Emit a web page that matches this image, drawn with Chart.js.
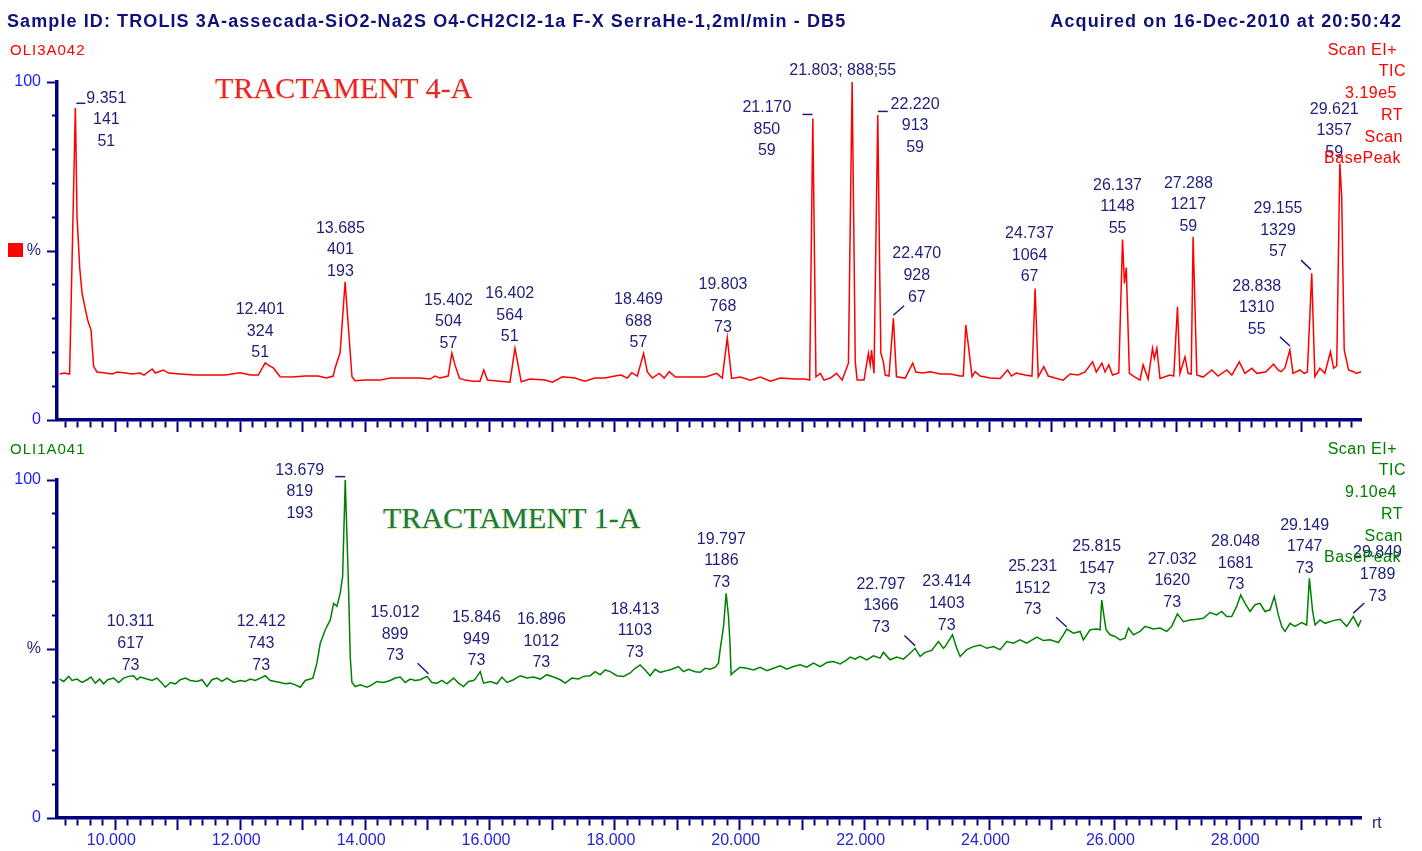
<!DOCTYPE html>
<html>
<head>
<meta charset="utf-8">
<script src="https://cdn.jsdelivr.net/npm/chart.js@4.4.0/dist/chart.umd.min.js"></script>
<style>
    body { margin: 0; background: #fff; width: 1422px; height: 851px; overflow: hidden; position: relative;
           font-family: "Liberation Sans", Arial, sans-serif; }
    canvas { position: absolute; left: 0; }
    .lab { position: absolute; line-height: 20px; white-space: nowrap; }
    .big { position: absolute; line-height: 36px; white-space: nowrap; font-family: "Liberation Serif", "Times New Roman", serif;
           font-size: 30px; letter-spacing: 0.1px; }
</style>
</head>
<body>
<canvas id="topChart" width="1422" height="440" style="top:0"></canvas>
<canvas id="botChart" width="1422" height="411" style="top:440px"></canvas>
<div style="position:absolute;left:8px;top:243px;width:15px;height:14px;background:#ff0000"></div>
<div class="big" style="left:215px;top:70px;color:#e8203a;text-shadow:-1px 1px 0 rgba(250,200,60,0.55)">TRACTAMENT 4-A</div>
<div class="big" style="left:383px;top:500px;color:#1d7a3c;text-shadow:-1px 1px 0 rgba(235,205,50,0.6), 1px 0 0 rgba(70,200,230,0.45)">TRACTAMENT 1-A</div>
<script>
/* =============================
   GC-MS TIC overlay, two runs
   retention time (min) vs relative abundance (%)
   ============================= */

// time axis window and ticks
const X_MIN = 9.066;
const X_MAX = 29.949;
const X_STEP = 0.2;
const Y_STEP = 10;

// OLI3A042 - TRACTAMENT 4-A  [rt, %]
const topTrace = [
    [9.108,13.6],[9.18,13.9],[9.268,13.6],[9.360,92.3],[9.387,60.1],[9.43,45.0],[9.467,37.5],[9.51,33.7],
    [9.557,29.6],[9.611,26.6],[9.653,15.8],[9.707,14.2],[9.84,13.9],[9.95,13.6],[10.03,14.2],[10.16,13.9],
    [10.27,13.6],[10.40,13.9],[10.46,13.3],[10.59,15.1],[10.64,13.9],[10.77,14.8],[10.85,13.9],[11.04,13.6],
    [11.28,13.3],[11.52,13.3],[11.76,13.3],[12.00,14.0],[12.16,13.3],[12.29,13.3],[12.40,16.9],[12.47,16.0],
    [12.53,15.4],[12.64,12.8],[12.83,12.7],[13.04,13.0],[13.25,13.0],[13.38,12.4],[13.49,13.0],[13.52,15.4],
    [13.60,19.9],[13.68,40.9],[13.73,28.1],[13.79,12.8],[13.84,11.6],[14.00,11.8],[14.24,11.8],[14.40,12.4],
    [14.64,12.4],[14.88,12.4],[15.04,12.1],[15.12,13.0],[15.20,12.4],[15.33,13.0],[15.39,19.8],[15.44,16.3],
    [15.51,12.4],[15.60,11.8],[15.73,11.5],[15.84,11.5],[15.90,14.8],[15.96,11.8],[16.16,11.5],[16.32,11.2],
    [16.40,21.2],[16.45,16.3],[16.50,11.3],[16.64,12.1],[16.88,11.8],[17.00,11.2],[17.16,12.8],[17.36,12.4],
    [17.52,11.5],[17.68,12.4],[17.84,12.4],[18.00,13.0],[18.10,13.3],[18.20,12.4],[18.27,14.0],[18.36,13.0],
    [18.46,19.7],[18.52,14.2],[18.60,12.4],[18.71,13.8],[18.79,12.4],[18.87,14.3],[18.97,12.7],[19.21,12.7],
    [19.45,12.7],[19.63,13.8],[19.72,12.4],[19.80,24.3],[19.87,12.3],[20.01,12.7],[20.17,11.8],[20.33,12.7],
    [20.49,11.5],[20.65,12.4],[20.89,12.1],[21.05,12.1],[21.12,11.8],[21.17,89.2],[21.22,12.8],[21.29,13.8],
    [21.35,11.8],[21.45,12.4],[21.55,13.8],[21.64,11.8],[21.74,16.8],[21.80,100],[21.85,17.2],[21.88,11.8],
    [21.99,11.8],[22.06,19.7],[22.09,16.3],[22.11,20.7],[22.15,13.8],[22.21,90.2],[22.24,45.3],[22.26,19.8],
    [22.30,17.2],[22.33,13.3],[22.39,13.0],[22.46,30.1],[22.51,12.8],[22.65,12.4],[22.77,16.8],[22.82,14.2],
    [22.92,13.9],[23.05,14.3],[23.21,13.6],[23.37,13.6],[23.53,13.0],[23.58,13.0],[23.62,28.1],[23.66,22.2],
    [23.72,12.8],[23.77,14.3],[23.85,13.0],[24.01,12.4],[24.17,12.3],[24.29,14.8],[24.35,13.0],[24.43,13.9],
    [24.57,13.3],[24.68,13.0],[24.73,38.9],[24.78,12.8],[24.87,15.8],[24.94,13.0],[25.05,12.4],[25.18,11.8],
    [25.29,13.6],[25.42,13.3],[25.53,14.2],[25.65,17.2],[25.71,14.2],[25.80,16.8],[25.85,14.2],[25.91,16.3],
    [25.97,13.3],[26.07,13.9],[26.13,53.4],[26.16,40.4],[26.19,45.1],[26.24,13.8],[26.33,12.7],[26.41,11.8],
    [26.46,16.3],[26.54,12.1],[26.61,21.2],[26.64,18.2],[26.68,21.2],[26.73,12.3],[26.89,13.3],[26.95,13.0],
    [27.01,33.5],[27.05,13.8],[27.13,18.7],[27.18,13.8],[27.23,13.6],[27.26,54.2],[27.32,13.3],[27.42,12.7],
    [27.56,14.8],[27.66,13.0],[27.80,14.8],[27.88,13.3],[28.00,17.2],[28.09,13.8],[28.20,15.3],[28.28,13.8],
    [28.42,14.2],[28.55,16.5],[28.62,14.8],[28.67,14.3],[28.73,15.4],[28.81,20.7],[28.86,13.8],[28.97,14.8],
    [29.04,13.8],[29.09,14.2],[29.16,43.4],[29.21,12.8],[29.29,15.3],[29.37,13.8],[29.46,20.2],[29.51,15.3],
    [29.56,16.0],[29.61,75.9],[29.64,66.0],[29.68,20.7],[29.75,14.8],[29.83,14.3],[29.87,13.8],[29.95,14.3]
];

// OLI1A041 - TRACTAMENT 1-A  [rt, %]
const botTrace = [
    [9.109,41.1],[9.173,40.4],[9.253,41.9],[9.306,40.7],[9.386,41.1],[9.466,40.1],[9.546,40.9],[9.610,41.7],
    [9.680,39.9],[9.749,41.1],[9.813,39.7],[9.877,40.9],[9.973,41.4],[10.053,40.1],[10.133,41.4],[10.213,41.9],
    [10.293,42.1],[10.347,40.9],[10.400,41.7],[10.507,41.1],[10.587,40.7],[10.667,41.4],[10.747,39.9],[10.801,38.7],
    [10.881,40.1],[10.961,39.7],[11.041,40.9],[11.121,41.4],[11.201,40.7],[11.307,40.4],[11.388,40.9],[11.468,38.9],
    [11.548,40.9],[11.628,41.4],[11.708,40.4],[11.788,41.4],[11.895,40.1],[12.001,40.7],[12.081,40.4],[12.161,41.1],
    [12.241,40.7],[12.322,41.4],[12.402,42.1],[12.482,40.7],[12.562,40.4],[12.642,40.1],[12.722,39.7],[12.802,39.9],
    [12.882,39.4],[12.962,38.7],[13.042,40.7],[13.122,41.1],[13.164,41.4],[13.228,45.8],[13.282,51.7],[13.362,55.7],
    [13.442,58.6],[13.496,63.5],[13.549,62.6],[13.602,66.5],[13.640,71.4],[13.682,100],[13.736,67.5],[13.762,47.8],
    [13.789,40.1],[13.842,38.9],[13.923,39.4],[14.029,38.7],[14.109,39.4],[14.189,40.4],[14.296,40.1],[14.403,40.7],
    [14.483,41.4],[14.563,41.7],[14.643,40.1],[14.723,41.1],[14.803,40.7],[14.883,40.9],[14.990,41.9],[15.070,40.1],
    [15.150,39.9],[15.230,40.7],[15.310,39.7],[15.417,41.4],[15.497,39.9],[15.577,38.9],[15.657,40.4],[15.737,40.7],
    [15.764,41.1],[15.844,43.3],[15.897,39.9],[16.004,40.4],[16.111,39.7],[16.191,41.7],[16.271,40.1],[16.377,40.9],
    [16.484,42.1],[16.591,41.4],[16.698,41.7],[16.804,41.1],[16.911,42.4],[17.018,41.7],[17.125,40.9],[17.205,39.9],
    [17.311,41.4],[17.418,41.1],[17.498,41.9],[17.605,42.1],[17.685,43.3],[17.765,42.4],[17.845,43.8],[17.925,43.3],
    [18.032,42.1],[18.138,41.9],[18.245,42.9],[18.325,44.3],[18.405,45.3],[18.485,43.8],[18.565,42.1],[18.645,44.0],
    [18.726,43.1],[18.832,43.6],[18.912,44.0],[19.019,44.8],[19.099,43.3],[19.179,44.0],[19.286,43.3],[19.366,43.1],
    [19.446,44.3],[19.526,44.0],[19.606,44.6],[19.659,45.8],[19.686,49.8],[19.740,56.7],[19.782,66.5],[19.820,59.6],
    [19.846,50.7],[19.862,42.4],[19.900,43.1],[20.006,44.6],[20.113,44.3],[20.220,43.8],[20.327,44.6],[20.434,43.6],
    [20.540,44.3],[20.647,45.0],[20.754,44.0],[20.861,44.8],[20.967,45.3],[21.074,44.6],[21.181,45.8],[21.288,44.8],
    [21.394,46.0],[21.501,46.3],[21.608,45.6],[21.714,46.8],[21.768,47.6],[21.848,47.0],[21.928,47.8],[22.034,46.8],
    [22.141,48.0],[22.248,47.3],[22.301,49.0],[22.408,46.8],[22.515,47.6],[22.621,47.0],[22.701,48.3],[22.808,50.2],
    [22.888,47.8],[22.968,49.0],[23.075,49.6],[23.182,52.2],[23.262,50.2],[23.289,50.7],[23.406,54.2],[23.475,50.2],
    [23.529,47.8],[23.636,49.8],[23.742,50.7],[23.849,51.2],[23.956,50.2],[24.062,50.7],[24.169,49.8],[24.276,52.2],
    [24.383,51.7],[24.489,52.7],[24.596,51.7],[24.703,52.9],[24.756,53.5],[24.863,52.5],[24.970,52.7],[25.103,51.9],
    [25.183,54.2],[25.237,55.9],[25.343,54.7],[25.450,55.2],[25.503,52.7],[25.610,55.7],[25.717,55.9],[25.770,55.7],
    [25.797,64.5],[25.834,59.6],[25.866,55.7],[25.930,54.2],[26.010,53.7],[26.090,52.7],[26.170,53.2],[26.224,56.2],
    [26.304,54.2],[26.410,55.2],[26.491,56.7],[26.624,55.9],[26.731,56.2],[26.838,55.2],[26.918,56.7],[27.008,60.4],
    [27.104,58.1],[27.211,58.6],[27.318,58.8],[27.425,59.1],[27.531,60.8],[27.638,60.1],[27.718,61.1],[27.798,59.6],
    [27.878,59.6],[27.958,62.6],[28.022,66.0],[28.092,63.5],[28.172,61.1],[28.252,63.1],[28.332,63.5],[28.412,61.1],
    [28.492,61.6],[28.561,65.5],[28.625,60.1],[28.679,56.7],[28.732,55.2],[28.812,57.6],[28.892,56.7],[28.999,57.8],
    [29.079,57.1],[29.122,70.9],[29.175,61.1],[29.213,57.1],[29.293,58.6],[29.373,57.6],[29.506,58.4],[29.613,58.8],
    [29.720,56.7],[29.826,59.6],[29.906,56.7],[29.950,58.6]
];

// peak labels: [rt, %, lines]  (rt / scan / base peak)
const topNotes = [
    [9.856, 95.6, ["9.351", "141", "51"]],
    [12.32, 33.0, ["12.401", "324", "51"]],
    [13.605, 57.1, ["13.685", "401", "193"]],
    [15.335, 35.8, ["15.402", "504", "57"]],
    [16.316, 37.7, ["16.402", "564", "51"]],
    [18.378, 36.0, ["18.469", "688", "57"]],
    [19.731, 40.4, ["19.803", "768", "73"]],
    [20.434, 92.8, ["21.170", "850", "59"]],
    [21.648, 103.7, ["21.803; 888;55"]],
    [22.808, 93.8, ["22.220", "913", "59"]],
    [22.835, 49.5, ["22.470", "928", "67"]],
    [24.641, 55.5, ["24.737", "1064", "67"]],
    [26.050, 69.8, ["26.137", "1148", "55"]],
    [27.184, 70.4, ["27.288", "1217", "59"]],
    [28.620, 62.9, ["29.155", "1329", "57"]],
    [28.279, 39.9, ["28.838", "1310", "55"]],
    [29.520, 92.3, ["29.621", "1357", "59"]]
];
const topLeaders = [
    [9.376, 93.7, 9.520, 93.7],
    [21.004, 90.4, 21.164, 90.4],
    [22.211, 91.3, 22.371, 91.3],
    [22.46, 31.0, 22.632, 33.8],
    [28.988, 47.3, 29.148, 44.5],
    [28.652, 24.6, 28.812, 21.9]
];

const botNotes = [
    [10.245, 58.4, ["10.311", "617", "73"]],
    [12.335, 58.4, ["12.412", "743", "73"]],
    [12.954, 103.3, ["13.679", "819", "193"]],
    [14.480, 61.1, ["15.012", "899", "73"]],
    [15.783, 59.6, ["15.846", "949", "73"]],
    [16.823, 59.1, ["16.896", "1012", "73"]],
    [18.320, 62.1, ["18.413", "1103", "73"]],
    [19.705, 82.8, ["19.797", "1186", "73"]],
    [22.261, 69.5, ["22.797", "1366", "73"]],
    [23.315, 70.2, ["23.414", "1403", "73"]],
    [24.690, 74.7, ["25.231", "1512", "73"]],
    [25.717, 80.6, ["25.815", "1547", "73"]],
    [26.926, 76.9, ["27.032", "1620", "73"]],
    [27.94, 82.1, ["28.048", "1681", "73"]],
    [29.047, 87.0, ["29.149", "1747", "73"]],
    [30.213, 78.8, ["29.849", "1789", "73"]]
];
const botLeaders = [
    [13.522, 101.0, 13.682, 101.0],
    [14.84, 45.8, 15.016, 42.7],
    [22.637, 54.0, 22.808, 51.0],
    [25.066, 59.4, 25.237, 56.5],
    [29.826, 60.6, 30.002, 63.6]
];

// header texts
const topInfo = ["Scan EI+", "TIC", "3.19e5", "RT", "Scan", "BasePeak"];
const botInfo = ["Scan EI+", "TIC", "9.10e4", "RT", "Scan", "BasePeak"];

const FONT = '"Liberation Sans", Arial, sans-serif';
const NAVY = "#000080";
const NOTE = "#1f1f7a";
Chart.defaults.font.family = FONT;

function isWhole(v) { return Math.abs(v - Math.round(v)) < 1e-6; }

// peak annotations placed through the chart scales
const peakNotes = {
    id: "peakNotes",
    afterDatasetsDraw: function (chart, args, opts) {
        const ctx = chart.ctx, xs = chart.scales.x, ys = chart.scales.y;
        ctx.save();
        ctx.fillStyle = NOTE;
        ctx.strokeStyle = NOTE;
        ctx.lineWidth = 1.5;
        ctx.font = "16px " + FONT;
        ctx.textAlign = "center";
        ctx.textBaseline = "alphabetic";
        opts.notes.forEach(function (n) {
            const px = xs.getPixelForValue(n[0]);
            const py = ys.getPixelForValue(n[1]);
            n[2].forEach(function (s, i) { ctx.fillText(s, px, py + 5.7 + i * 21.6); });
        });
        opts.leaders.forEach(function (l) {
            ctx.beginPath();
            ctx.moveTo(xs.getPixelForValue(l[0]), ys.getPixelForValue(l[1]));
            ctx.lineTo(xs.getPixelForValue(l[2]), ys.getPixelForValue(l[3]));
            ctx.stroke();
        });
        ctx.restore();
    }
};

function makeChart(id, trace, color, notes, leaders, padTop, xHeight, showXLabels) {
    const ctx = document.getElementById(id).getContext("2d");
    return new Chart(ctx, {
        type: "line",
        data: {
            datasets: [{
                data: trace.map(function (p) { return { x: p[0], y: p[1] }; }),
                borderColor: color,
                borderWidth: 1.5,
                pointRadius: 0,
                tension: 0,
                fill: false,
                clip: false
            }]
        },
        plugins: [peakNotes],
        options: {
            responsive: false,
            animation: false,
            events: [],
            layout: { padding: { top: padTop, left: 0, right: 61, bottom: 0 } },
            plugins: {
                legend: { display: false },
                tooltip: { enabled: false },
                peakNotes: { notes: notes, leaders: leaders }
            },
            scales: {
                x: {
                    type: "linear",
                    min: X_MIN,
                    max: X_MAX,
                    afterFit: function (s) { s.height = xHeight; },
                    border: { display: true, color: NAVY, width: 3.5 },
                    grid: {
                        drawOnChartArea: false,
                        drawTicks: true,
                        tickLength: 12,
                        tickColor: NAVY,
                        tickWidth: 2,
                        tickBorderDash: function (c) { return isWhole(c.tick.value) ? [] : [6, 100]; }
                    },
                    ticks: {
                        stepSize: X_STEP,
                        includeBounds: false,
                        autoSkip: false,
                        maxRotation: 0,
                        padding: 1,
                        labelOffset: -4,
                        color: "#2424dc",
                        font: { size: 16 },
                        callback: function (v) {
                            if (!showXLabels || !isWhole(v)) return "";
                            const r = Math.round(v);
                            return r % 2 === 0 ? r.toFixed(3) : "";
                        }
                    }
                },
                y: {
                    min: 0,
                    max: 100,
                    afterFit: function (s) { s.width = 57; },
                    border: { display: true, color: NAVY, width: 3.5 },
                    grid: {
                        drawOnChartArea: false,
                        tickLength: 10,
                        tickColor: NAVY,
                        tickWidth: 2,
                        tickBorderDash: function (c) { return c.tick.value % 50 === 0 ? [] : [0, 5, 6, 100]; }
                    },
                    ticks: {
                        stepSize: Y_STEP,
                        autoSkip: false,
                        padding: 6,
                        font: { size: 16 },
                        color: function (c) { return c.tick && c.tick.value === 50 ? "#1f1f7a" : "#1a1aff"; },
                        callback: function (v) { return v === 100 ? "100" : v === 50 ? "%" : v === 0 ? "0" : ""; }
                    }
                }
            }
        }
    });
}

makeChart("topChart", topTrace, "#ff0000", topNotes, topLeaders, 82, 20, false);
makeChart("botChart", botTrace, "#008000", botNotes, botLeaders, 40, 33, true);

// ---- text around the plots ----
function addText(text, x, cy, css, right) {
    const d = document.createElement("div");
    d.className = "lab";
    d.textContent = text;
    d.style.cssText = css;
    d.style.top = (cy - 10) + "px";
    if (right) d.style.right = (1422 - x) + "px"; else d.style.left = x + "px";
    document.body.appendChild(d);
}

const titleCss = "font-weight:bold;font-size:18px;letter-spacing:1.1px;color:#10107a;";
addText("Sample ID: TROLIS 3A-assecada-SiO2-Na2S O4-CH2Cl2-1a F-X SerraHe-1,2ml/min - DB5", 7, 21, titleCss, false);
addText("Acquired on 16-Dec-2010 at 20:50:42", 1402, 21, titleCss, true);

addText("OLI3A042", 10, 50, "font-size:15px;letter-spacing:1px;color:#ff0000;", false);
addText("OLI1A041", 10, 449, "font-size:15px;letter-spacing:1px;color:#008000;", false);

const infoRight = [1397, 1406, 1397, 1403, 1403, 1401];
const infoTopY = [49.5, 71, 93, 114.5, 136.5, 158];
topInfo.forEach(function (s, i) {
    addText(s, infoRight[i], infoTopY[i], "font-size:16px;letter-spacing:0.5px;color:#ff0000;", true);
});
botInfo.forEach(function (s, i) {
    addText(s, infoRight[i], infoTopY[i] + 399, "font-size:16px;letter-spacing:0.5px;color:#008000;", true);
});

addText("rt", 1372, 823, "font-size:16px;color:#1f1f7a;", false);
</script>
</body>
</html>
